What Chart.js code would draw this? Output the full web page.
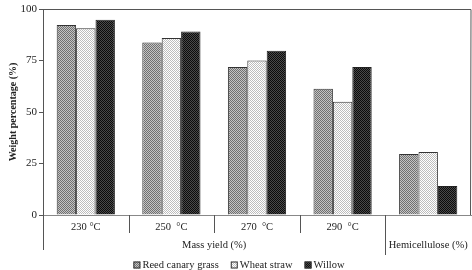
<!DOCTYPE html>
<html>
<head>
<meta charset="utf-8">
<script src="https://cdn.jsdelivr.net/npm/chart.js@4"></script>
<style>
  html, body { margin: 0; padding: 0; background: #fff; }
  #wrap { width: 472px; height: 270px; }
</style>
</head>
<body>
<div id="wrap"><canvas id="chart"></canvas></div>
<script>
// data
const categories = ['230 °C', '250  °C', '270  °C', '290  °C', ''];
const reedCanaryGrass = [92.2, 83.7, 71.9, 61.3, 29.6];
const wheatStraw = [90.6, 85.9, 75.0, 55.0, 30.6];
const willow = [94.8, 89.1, 79.7, 71.9, 14.1];
const yTicks = [0, 25, 50, 75, 100];

// little dither patterns for the bars
function makePattern(c1, c2) {
    const p = document.createElement('canvas');
    p.width = 2; p.height = 2;
    const g = p.getContext('2d');
    g.fillStyle = c1; g.fillRect(0, 0, 2, 2);
    g.fillStyle = c2; g.fillRect(0, 0, 1, 1); g.fillRect(1, 1, 1, 1);
    return g.createPattern(p, 'repeat');
}

const reedFill = makePattern('#c4c4c4', '#707070');
const wheatFill = makePattern('#ffffff', '#bdbdbd');
const willowFill = makePattern('#4a4a4a', '#0c0c0c');

const font = 'Liberation Serif, Times New Roman, serif';

// separators, group labels and legend under the x axis
const groupLabels = {
    id: 'groupLabels',
    afterDraw(chart) {
        const ctx = chart.ctx;
        const x = chart.scales.x;
        const area = chart.chartArea;
        const half = (x.getPixelForValue(1) - x.getPixelForValue(0)) / 2;
        ctx.save();
        ctx.strokeStyle = '#555';
        ctx.lineWidth = 1;
        // box top and right
        ctx.beginPath();
        ctx.moveTo(area.left, area.top + 0.5);
        ctx.lineTo(area.right, area.top + 0.5);
        ctx.lineTo(area.right - 0.5, area.bottom);
        ctx.stroke();
        // separators between categories
        for (let i = 1; i < categories.length; i++) {
            const px = Math.round(x.getPixelForValue(i) - half) + 0.5;
            const len = i === categories.length - 1 ? 40 : 18;
            ctx.beginPath();
            ctx.moveTo(px, area.bottom);
            ctx.lineTo(px, area.bottom + len);
            ctx.stroke();
        }
        // left axis running down
        ctx.beginPath();
        ctx.moveTo(area.left + 0.5, area.bottom);
        ctx.lineTo(area.left + 0.5, area.bottom + 35);
        ctx.stroke();

        const split = x.getPixelForValue(4) - half;
        ctx.fillStyle = '#222';
        ctx.font = '10.5px ' + font;
        ctx.textAlign = 'center';
        ctx.textBaseline = 'middle';
        ctx.fillText('Mass yield (%)', (area.left + split) / 2, area.bottom + 30);
        ctx.fillText('Hemicellulose (%)', (split + area.right) / 2, area.bottom + 30);

        // legend
        const ds = chart.data.datasets;
        const box = 7, gap = 2, space = 12;
        ctx.font = '10.5px ' + font;
        const widths = ds.map(d => box + gap + ctx.measureText(d.label).width);
        const total = widths.reduce((a, b) => a + b, 0) + space * (ds.length - 1);
        let lx = chart.width / 2 + 3 - total / 2;
        const ly = 265;
        ctx.textAlign = 'left';
        ds.forEach((d, i) => {
            ctx.fillStyle = d.backgroundColor;
            ctx.fillRect(lx, ly - box / 2, box, box);
            ctx.strokeStyle = '#333';
            ctx.strokeRect(lx + 0.5, ly - box / 2 + 0.5, box - 1, box - 1);
            ctx.fillStyle = '#222';
            ctx.fillText(d.label, lx + box + gap, ly);
            lx += widths[i] + space;
        });
        ctx.restore();
    }
};

new Chart(document.getElementById('chart'), {
    type: 'bar',
    data: {
        labels: categories,
        datasets: [
            { label: 'Reed canary grass', data: reedCanaryGrass, backgroundColor: reedFill, borderColor: '#333', borderWidth: 1 },
            { label: 'Wheat straw', data: wheatStraw, backgroundColor: wheatFill, borderColor: '#333', borderWidth: 1 },
            { label: 'Willow', data: willow, backgroundColor: willowFill, borderColor: '#222', borderWidth: 1 }
        ]
    },
    options: {
        responsive: true,
        maintainAspectRatio: false,
        animation: false,
        layout: { padding: { top: 9, right: 1, left: 5, bottom: 15 } },
        datasets: { bar: { categoryPercentage: 0.68, barPercentage: 1 } },
        plugins: {
            tooltip: { enabled: false },
            legend: { display: false }
        },
        scales: {
            x: {
                grid: { display: false, drawTicks: false },
                border: { display: true, color: '#888' },
                ticks: { color: '#222', padding: 6, font: { family: font, size: 10.5 } },
                afterFit(s) { s.height = 40; }
            },
            y: {
                min: 0,
                max: 100,
                afterBuildTicks(s) { s.ticks = yTicks.map(v => ({ value: v })); },
                grid: { drawOnChartArea: false, tickLength: 4, color: '#555' },
                border: { display: true, color: '#555' },
                ticks: { color: '#222', padding: 2, font: { family: font, size: 11 } },
                title: {
                    display: true,
                    text: 'Weight percentage (%)',
                    color: '#222',
                    padding: 2,
                    font: { family: font, size: 10, weight: 'bold' }
                },
                afterFit(s) { s.width = 38; }
            }
        }
    },
    plugins: [groupLabels]
});
</script>
</body>
</html>
